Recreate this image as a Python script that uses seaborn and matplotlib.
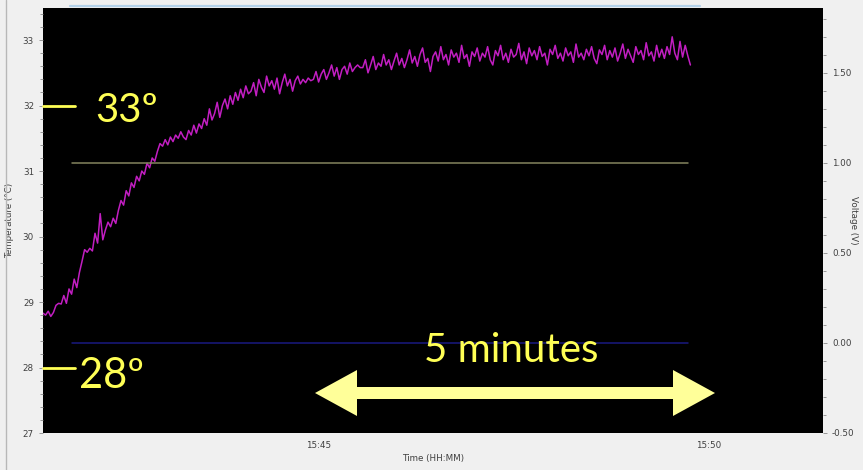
import matplotlib
matplotlib.use("Agg")
import matplotlib.pyplot as plt
import matplotlib.dates as mdates
from matplotlib.ticker import MultipleLocator, FormatStrFormatter
from matplotlib.patches import Polygon
from matplotlib.lines import Line2D
import pandas as pd
import seaborn as sns

# Logged thermistor temperature (deg C), one reading every 2 s from 15:41:28
temperature_c = [
    28.83, 28.80, 28.86, 28.78, 28.84, 28.95, 28.98, 28.97, 29.10, 28.98,
    29.20, 29.12, 29.35, 29.22, 29.45, 29.62, 29.80, 29.76, 29.82, 29.78,
    30.05, 29.90, 30.35, 29.95, 30.10, 30.22, 30.15, 30.28, 30.20, 30.40,
    30.55, 30.48, 30.70, 30.62, 30.82, 30.75, 30.92, 30.85, 31.00, 30.95,
    31.12, 31.05, 31.20, 31.15, 31.30, 31.42, 31.38, 31.48, 31.40, 31.52,
    31.45, 31.55, 31.50, 31.60, 31.52, 31.48, 31.62, 31.55, 31.70, 31.58,
    31.72, 31.65, 31.80, 31.70, 31.95, 31.78, 31.88, 32.05, 31.82, 32.00,
    32.10, 31.95, 32.15, 32.02, 32.20, 32.08, 32.25, 32.12, 32.30, 32.18,
    32.22, 32.35, 32.15, 32.40, 32.28, 32.20, 32.45, 32.30, 32.38, 32.25,
    32.42, 32.18, 32.35, 32.48, 32.30, 32.40, 32.22, 32.38, 32.45, 32.33,
    32.40, 32.35, 32.42, 32.38, 32.40, 32.52, 32.36, 32.48, 32.55, 32.40,
    32.50, 32.62, 32.45, 32.58, 32.40, 32.55, 32.60, 32.48, 32.65, 32.52,
    32.58, 32.62, 32.58, 32.58, 32.70, 32.50, 32.62, 32.75, 32.55, 32.65,
    32.60, 32.78, 32.62, 32.70, 32.55, 32.68, 32.80, 32.62, 32.72, 32.58,
    32.70, 32.85, 32.65, 32.75, 32.60, 32.78, 32.88, 32.66, 32.72, 32.52,
    32.75, 32.82, 32.68, 32.90, 32.70, 32.78, 32.62, 32.85, 32.74, 32.80,
    32.66, 32.92, 32.72, 32.78, 32.60, 32.82, 32.75, 32.88, 32.68, 32.80,
    32.74, 32.90, 32.70, 32.62, 32.84, 32.76, 32.92, 32.70, 32.80, 32.66,
    32.86, 32.74, 32.78, 32.95, 32.70, 32.82, 32.64, 32.88, 32.76, 32.84,
    32.70, 32.90, 32.75, 32.80, 32.62, 32.86, 32.78, 32.92, 32.72, 32.80,
    32.68, 32.88, 32.76, 32.82, 32.66, 32.94, 32.74, 32.80, 32.70, 32.86,
    32.76, 32.90, 32.72, 32.64, 32.85, 32.78, 32.92, 32.70, 32.84, 32.74,
    32.88, 32.68, 32.80, 32.94, 32.72, 32.86, 32.76, 32.66, 32.90, 32.78,
    32.84, 32.70, 32.96, 32.76, 32.82, 32.68, 32.92, 32.74, 32.86, 32.72,
    32.90, 32.78, 33.05, 32.80, 32.70, 32.98, 32.74, 32.92, 32.76, 32.62,
]
log_start = "2015-03-10 15:41:28"
sample_period = "2s"

# Two constant voltage channels (V) recorded over the same run
voltage_channels = ["V1", "V2"]
voltage_levels = [1.00, 0.00]
voltage_window = ["2015-03-10 15:41:50", "2015-03-10 15:49:44"]

view_start = "2015-03-10 15:41:28"
view_end = "2015-03-10 15:51:28"

temp_df = pd.DataFrame({
    "time": pd.date_range(log_start, periods=len(temperature_c), freq=sample_period),
    "temperature": temperature_c,
})
volt_df = pd.DataFrame([
    {"time": pd.Timestamp(t), "voltage": v, "channel": ch}
    for ch, v in zip(voltage_channels, voltage_levels)
    for t in voltage_window
])

sns.set_theme(style="white")
plt.rcParams["font.family"] = ["DejaVu Sans"]

W, H = 863, 470
fig = plt.figure(figsize=(W / 100, H / 100), dpi=100, facecolor="#f0f0f0")


def fx(x):
    return x / W


def fy(y):
    return 1 - y / H


ax = fig.add_axes([fx(43), fy(433), (823 - 43) / W, (433 - 8) / H])
ax.set_facecolor("black")

sns.lineplot(data=temp_df, x="time", y="temperature", ax=ax,
             color="#c21ec2", linewidth=1.1)
ax.set_xlim(pd.Timestamp(view_start), pd.Timestamp(view_end))
ax.set_ylim(27, 33.49)

ax2 = ax.twinx()
sns.lineplot(data=volt_df, x="time", y="voltage", hue="channel",
             palette=["#85855e", "#1a1a80"], legend=False, ax=ax2, linewidth=1.1)
ax2.set_ylim(-0.5, 1.861)

tick_col = "#8a8a8a"
label_col = "#404040"
for a in (ax, ax2):
    for s in a.spines.values():
        s.set_visible(False)
    a.tick_params(which="both", direction="out", color=tick_col,
                  labelsize=6.3, labelcolor=label_col, width=0.6)
    a.tick_params(which="major", length=3)
    a.tick_params(which="minor", length=2)

ax.yaxis.set_major_locator(MultipleLocator(1))
ax.yaxis.set_minor_locator(MultipleLocator(0.2))
ax2.yaxis.set_major_locator(MultipleLocator(0.5))
ax2.yaxis.set_minor_locator(MultipleLocator(0.1))
ax2.yaxis.set_major_formatter(FormatStrFormatter("%.2f"))
ax.xaxis.set_major_locator(mdates.MinuteLocator(byminute=range(0, 60, 5)))
ax.xaxis.set_major_formatter(mdates.DateFormatter("%H:%M"))
ax.tick_params(axis="x", which="major", length=2, pad=4)

ax.set_xlabel("Time (HH:MM)", fontsize=6.3, color=label_col, labelpad=3)
ax.set_ylabel("Temperature (°C)", fontsize=6.3, color=label_col, labelpad=6)
ax2.set_ylabel("Voltage (V)", fontsize=6.3, color=label_col, rotation=270,
               ha="center", va="center")
ax2.yaxis.set_label_coords((853 - 43) / 780, 0.5)

# window frame details
fig.add_artist(Line2D([fx(6), fx(6)], [0, 1], color="#b8b8b8", lw=1.0))
fig.add_artist(Line2D([fx(70), fx(700)], [fy(6), fy(6)], color="#b4d2ea", lw=1.6))

# hand-drawn annotations
yellow = "#ffff55"
fig.add_artist(Line2D([fx(43), fx(75)], [fy(106), fy(106)], color=yellow, lw=2))
fig.add_artist(Line2D([fx(43), fx(75)], [fy(368), fy(368)], color=yellow, lw=2))
fig.text(fx(95), fy(122), "33º", color=yellow, fontsize=29, family="Lato",
         ha="left", va="baseline")
fig.text(fx(79), fy(388), "28º", color=yellow, fontsize=30, family="Lato",
         ha="left", va="baseline")
fig.text(fx(511), fy(362), "5 minutes", color=yellow, fontsize=29,
         family="Lato", ha="center", va="baseline")

arrow_px = [(315, 393), (357, 370), (357, 387), (673, 387), (673, 370),
            (715, 393), (673, 416), (673, 399), (357, 399), (357, 416)]
fig.add_artist(Polygon([(fx(x), fy(y)) for x, y in arrow_px], closed=True,
                       facecolor="#ffff99", edgecolor="none",
                       transform=fig.transFigure))

fig.savefig("out.png", dpi=100, facecolor=fig.get_facecolor())
